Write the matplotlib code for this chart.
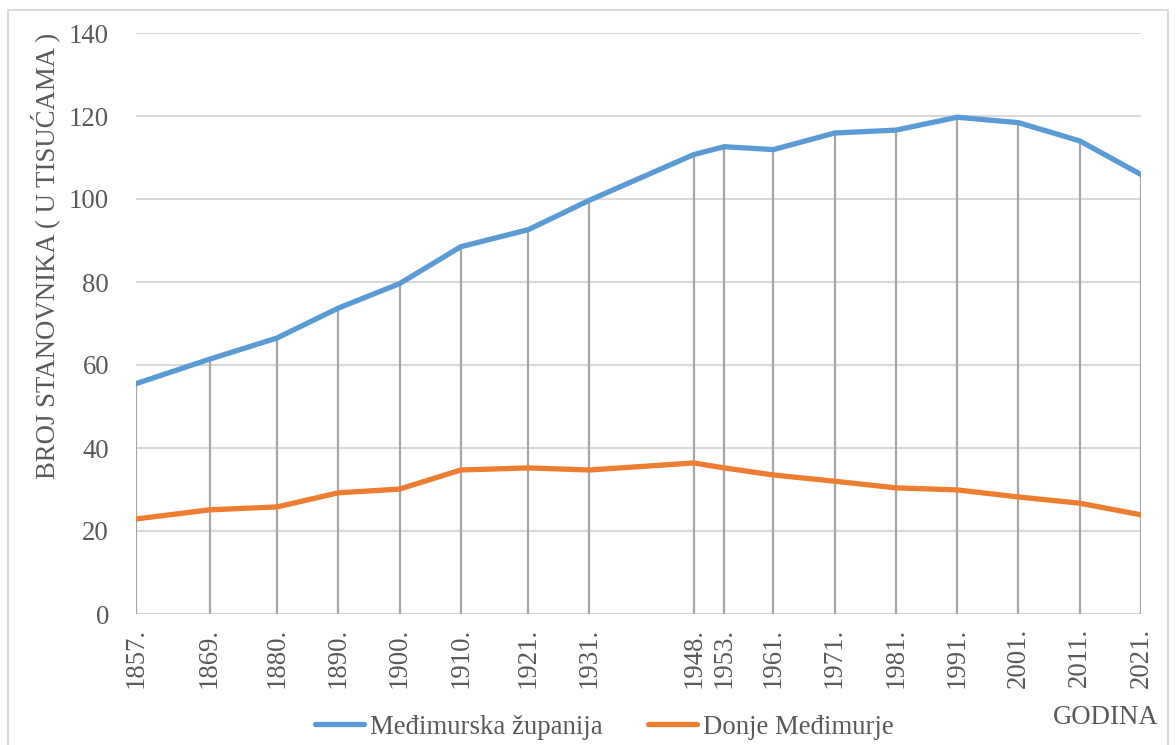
import matplotlib
matplotlib.use('Agg')
from matplotlib import pyplot as plt
from matplotlib.patches import Rectangle
import numpy as np

years = [1857, 1869, 1880, 1890, 1900, 1910, 1921, 1931, 1948, 1953,
         1961, 1971, 1981, 1991, 2001, 2011, 2021]
medimurska = [55.5, 61.4, 66.5, 73.7, 79.6, 88.5, 92.6, 99.7, 110.7, 112.6,
              111.9, 115.9, 116.6, 119.7, 118.4, 114.0, 105.9]
donje = [22.9, 25.1, 25.8, 29.2, 30.1, 34.7, 35.2, 34.7, 36.4, 35.2,
         33.5, 32.0, 30.4, 29.9, 28.2, 26.7, 23.9]
y_ticks = [0, 20, 40, 60, 80, 100, 120, 140]

BLUE = '#5B9BD5'
ORANGE = '#ED7D31'
TXT = '#595959'
FS = 19.3

plt.rcParams['font.family'] = ['Liberation Serif', 'DejaVu Serif']

fig = plt.figure(figsize=(11.76, 7.45), dpi=100)
ax = fig.add_axes([136 / 1176, 131 / 745, 1005 / 1176, 581 / 745])

# drop lines from axis up to the higher series
top = np.maximum(medimurska, donje)
ax.vlines(years, 0, top, color='#a6a6a6', lw=1.6, zorder=1)

ax.plot(years, medimurska, color=BLUE, lw=3.8, solid_capstyle='round',
        label='Međimurska županija', zorder=3)
ax.plot(years, donje, color=ORANGE, lw=3.8, solid_capstyle='round',
        label='Donje Međimurje', zorder=3)

ax.set_xlim(1857, 2021)
ax.set_ylim(0, 140)
ax.set_yticks(y_ticks)
ax.set_xticks(years)
ax.set_xticklabels(['{}.'.format(y) for y in years], rotation=90, va='top')
ax.tick_params(axis='both', length=0, labelsize=FS, colors=TXT)
ax.tick_params(axis='y', pad=19.4)
ax.tick_params(axis='x', pad=10)
ax.grid(axis='y', color='#d9d9d9', lw=1.5, zorder=0)
ax.set_axisbelow(True)
for s in ax.spines.values():
    s.set_visible(False)

fig.text(45 / 1176, 1 - 256 / 745, 'BROJ STANOVNIKA ( U TISUĆAMA )', rotation=90,
         ha='center', va='center', fontsize=FS, color=TXT)
fig.text(1106 / 1176, 1 - 718 / 745, 'GODINA', ha='center', va='center',
         fontsize=FS, color=TXT)

leg = fig.legend(loc='center', bbox_to_anchor=(604 / 1176, 1 - 727 / 745), ncol=2,
                 frameon=False, fontsize=FS, handlelength=1.85, handletextpad=0.2,
                 columnspacing=1.7, borderaxespad=0)
for t in leg.get_texts():
    t.set_color(TXT)

fig.patches.append(Rectangle((8 / 1176, -0.01), 1160 / 1176, 1 - 10 / 745 + 0.01,
                             transform=fig.transFigure, fill=False,
                             edgecolor='#d9d9d9', lw=1.5))

fig.savefig('out.png', dpi=100)
